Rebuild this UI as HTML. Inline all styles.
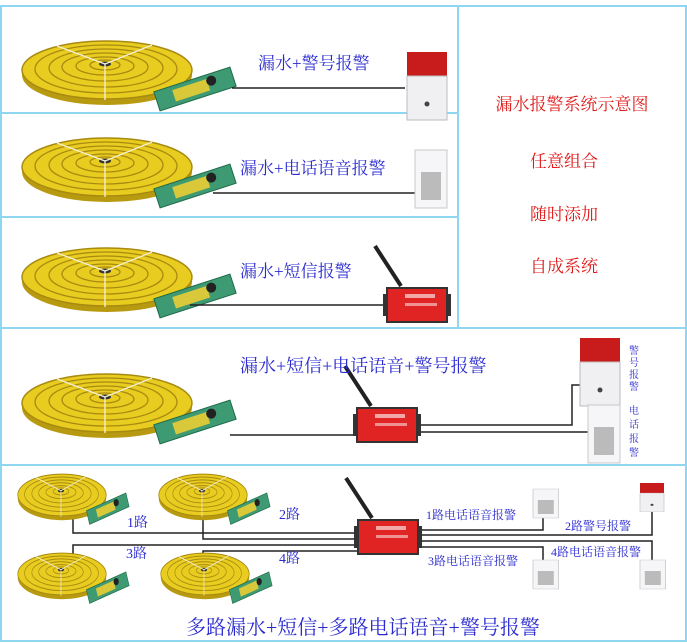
<!DOCTYPE html>
<html><head><meta charset="utf-8">
<style>
html,body{margin:0;padding:0;background:#fff}
svg{display:block}
.b{font-family:"Liberation Serif","Noto Serif CJK SC",serif;fill:#2a2ad0}
.r{font-family:"Liberation Serif","Noto Serif CJK SC",serif;fill:#e01818}
</style></head><body>
<svg width="687" height="643" viewBox="0 0 687 643" xmlns="http://www.w3.org/2000/svg">
<defs>
<g id="coil">
 <ellipse cx="0" cy="5" rx="85" ry="30" fill="#b89a10"/>
 <ellipse cx="0" cy="0" rx="85" ry="29" fill="#e8cc20" stroke="#a88a10" stroke-width="1.5"/>
 <ellipse cx="-1" cy="-1" rx="71" ry="24" fill="none" stroke="#a88a10" stroke-width="1.3"/>
 <ellipse cx="-1" cy="-2" rx="57" ry="19" fill="none" stroke="#a88a10" stroke-width="1.3"/>
 <ellipse cx="-2" cy="-3" rx="43" ry="14" fill="none" stroke="#a88a10" stroke-width="1.3"/>
 <ellipse cx="-2" cy="-4" rx="29" ry="9" fill="none" stroke="#a88a10" stroke-width="1.3"/>
 <ellipse cx="-2" cy="-5" rx="15" ry="5" fill="none" stroke="#a88a10" stroke-width="1.3"/>
 <ellipse cx="-2" cy="-6" rx="6" ry="2.5" fill="#333"/>
 <path d="M-2 -6 L-50 -24 M-2 -6 L45 -25 M-2 -6 L-2 30" stroke="#f4f0d8" stroke-width="1.3"/>
 <g transform="translate(88,19) rotate(-18)">
  <rect x="-40" y="-10" width="80" height="20" fill="#3d9a72" stroke="#1e6a4a"/>
  <rect x="-22" y="-6" width="36" height="12" fill="#d8c83a"/>
  <circle cx="18" cy="-3" r="5" fill="#222"/>
 </g>
</g>
<g id="siren">
 <rect x="0" y="0" width="40" height="24" fill="#c81c1c"/>
 <path d="M0 24 L40 24 L40 68 L0 68 Z" fill="#f0f0f2" stroke="#bbb"/>
 <circle cx="20" cy="52" r="2.5" fill="#444"/>
</g>
<g id="keypad">
 <rect x="0" y="0" width="32" height="58" fill="#f6f6f8" stroke="#c8c8cc"/>
 <g fill="#bbb"><rect x="6" y="22" width="20" height="28"/></g>
</g>
<g id="dev">
 <path d="M-12 -42 L14 -2" stroke="#222" stroke-width="4"/>
 <rect x="0" y="0" width="60" height="34" fill="#e02424" stroke="#333" stroke-width="2"/>
 <rect x="-4" y="6" width="4" height="22" fill="#333"/><rect x="60" y="6" width="4" height="22" fill="#333"/>
 <rect x="18" y="6" width="30" height="4" fill="#fff" opacity=".6"/>
 <rect x="18" y="15" width="32" height="3" fill="#fff" opacity=".5"/>
</g>
</defs>

<g fill="none" stroke="#8fd6f2" stroke-width="2">
 <rect x="1" y="6" width="685" height="635"/>
 <line x1="1" y1="113" x2="458" y2="113"/>
 <line x1="1" y1="217" x2="458" y2="217"/>
 <line x1="458" y1="6" x2="458" y2="328"/>
 <line x1="1" y1="328" x2="686" y2="328"/>
 <line x1="1" y1="465" x2="686" y2="465"/>
</g>

<!-- row1 -->
<use href="#coil" x="107" y="70"/>
<line x1="232" y1="88" x2="405" y2="88" stroke="#222" stroke-width="1.5"/>
<use href="#siren" x="407" y="52"/>
<text class="b" x="258" y="69" font-size="17">漏水+警号报警</text>
<!-- row2 -->
<use href="#coil" x="107" y="167"/>
<line x1="213" y1="193" x2="415" y2="193" stroke="#222" stroke-width="1.5"/>
<use href="#keypad" x="415" y="150"/>
<text class="b" x="240" y="174" font-size="17">漏水+电话语音报警</text>
<!-- row3 -->
<use href="#coil" x="107" y="277"/>
<line x1="190" y1="305" x2="385" y2="305" stroke="#222" stroke-width="1.5"/>
<use href="#dev" x="387" y="288"/>
<text class="b" x="240" y="277" font-size="17">漏水+短信报警</text>
<!-- right panel -->
<text class="r" x="572" y="110" font-size="17" text-anchor="middle">漏水报警系统示意图</text>
<text class="r" x="564" y="167" font-size="17" text-anchor="middle">任意组合</text>
<text class="r" x="564" y="220" font-size="17" text-anchor="middle">随时添加</text>
<text class="r" x="564" y="272" font-size="17" text-anchor="middle">自成系统</text>

<!-- row4 -->
<use href="#coil" x="107" y="403"/>
<g stroke="#222" stroke-width="1.5" fill="none">
 <line x1="230" y1="435" x2="357" y2="435"/>
 <polyline points="418,425 572,425 572,385 580,385"/>
 <line x1="418" y1="432" x2="588" y2="432"/>
</g>
<use href="#dev" x="357" y="408"/>
<use href="#siren" x="580" y="338"/>
<use href="#keypad" x="588" y="405"/>
<text class="b" x="240" y="372" font-size="18">漏水+短信+电话语音+警号报警</text>
<g class="b" font-size="10" text-anchor="middle">
 <text x="634" y="354">警</text><text x="634" y="366">号</text><text x="634" y="378">报</text><text x="634" y="390">警</text>
 <text x="634" y="414">电</text><text x="634" y="428">话</text><text x="634" y="442">报</text><text x="634" y="456">警</text>
</g>

<!-- row5 -->
<g stroke="#222" stroke-width="1.5" fill="none">
 <polyline points="73,512 73,533 357,533"/>
 <polyline points="203,512 203,539 357,539"/>
 <polyline points="73,562 73,545 357,545"/>
 <polyline points="203,562 203,551 357,551"/>
 <polyline points="414,530 543,530 543,518"/>
 <polyline points="414,535 652,535 652,512"/>
 <polyline points="414,541 652,541 652,560"/>
 <polyline points="414,547 543,547 543,562"/>
</g>
<g transform="translate(62,495) scale(0.52,0.72)"><use href="#coil"/></g>
<g transform="translate(203,495) scale(0.52,0.72)"><use href="#coil"/></g>
<g transform="translate(62,574) scale(0.52,0.72)"><use href="#coil"/></g>
<g transform="translate(205,574) scale(0.52,0.72)"><use href="#coil"/></g>
<use href="#dev" x="358" y="520"/>
<g transform="translate(533,489) scale(0.8,0.5)"><use href="#keypad"/></g>
<g transform="translate(533,560) scale(0.8,0.5)"><use href="#keypad"/></g>
<g transform="translate(640,560) scale(0.8,0.5)"><use href="#keypad"/></g>
<g transform="translate(640,483) scale(0.6,0.42)"><use href="#siren"/></g>
<g class="b" font-size="14">
 <text x="127" y="527">1路</text><text x="279" y="519">2路</text>
 <text x="126" y="558">3路</text><text x="279" y="563">4路</text>
</g>
<g class="b" font-size="12">
 <text x="426" y="519">1路电话语音报警</text>
 <text x="565" y="530">2路警号报警</text>
 <text x="428" y="565">3路电话语音报警</text>
 <text x="551" y="556">4路电话语音报警</text>
</g>
<text class="b" x="186" y="634" font-size="20">多路漏水+短信+多路电话语音+警号报警</text>
</svg>
</body></html>
